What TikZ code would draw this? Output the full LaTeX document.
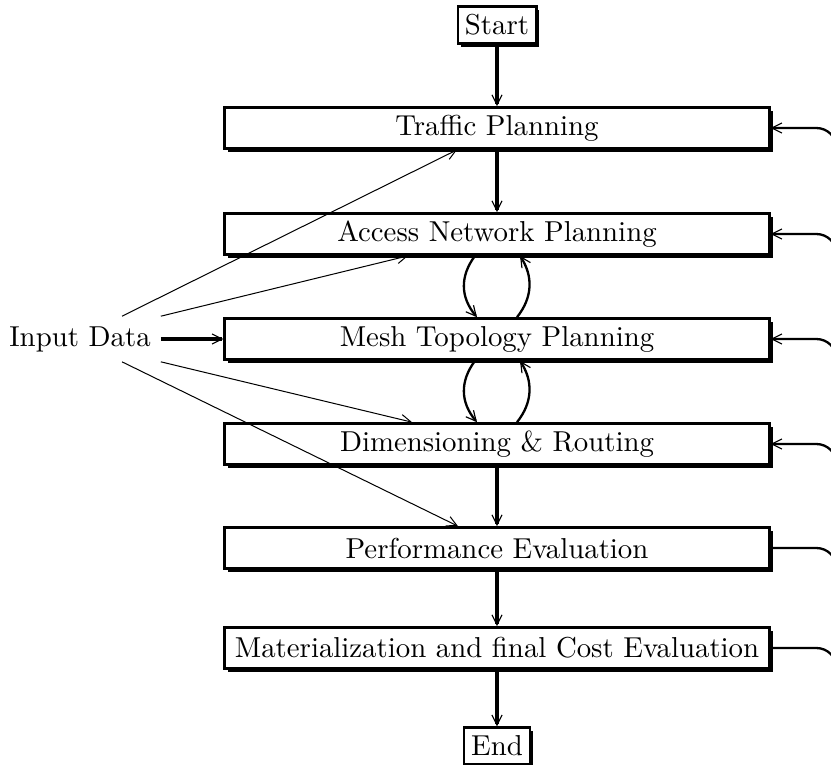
\documentclass[tikz,border=0pt]{standalone}
\usetikzlibrary{arrows.meta,shadows,calc}

\begin{document}
\begin{tikzpicture}[
        x=0.347pt, y=-0.347pt,
        stage/.style={draw, line width=0.85pt, fill=white,
          minimum width=189pt, minimum height=14.3pt, inner sep=1pt,
          drop shadow={shadow xshift=1.1pt, shadow yshift=-1.1pt, fill=black, opacity=1}},
        term/.style={stage, minimum width=0pt, minimum height=12.8pt, inner sep=2.5pt},
        flow/.style={line width=1.15pt, -{Straight Barb[length=3.5pt,width=3.5pt,line width=0.4pt]}},
        feed/.style={line width=0.35pt, -{Straight Barb[length=3.5pt,width=3.5pt,line width=0.35pt]}},
        back/.style={line width=0.8pt, rounded corners=7pt}]
        % picture frame
        \useasboundingbox (0,0) rectangle (831,764);
        % stages
        \node[term]  (start) at (497,25)  {Start};
        \node[stage] (traf)  at (497,128) {Traffic Planning};
        \node[stage] (acc)   at (497,234) {Access Network Planning};
        \node[stage] (mesh)  at (497,339) {Mesh Topology Planning};
        \node[stage] (dim)   at (497,444) {Dimensioning \& Routing};
        \node[stage] (perf)  at (497,548) {Performance Evaluation};
        \node[stage] (mat)   at (497,648) {Materialization and final Cost Evaluation};
        \node[term]  (end)   at (497,746) {End};
        % input
        \node[minimum height=14.6pt] (inp) at (80,339) {Input Data};
        % main flow
        \draw[flow] (start) -- (traf);
        \draw[flow] (traf) -- (acc);
        \draw[flow] (inp) -- (mesh);
        \draw[flow] (dim) -- (perf);
        \draw[flow] (perf) -- (mat);
        \draw[flow] (mat) -- (end);
        % loops between planning stages
        \draw[flow, line width=0.8pt] ($(acc.south)+(-22,0)$) .. controls +(-15,20) and +(-17,-20) .. ($(mesh.north)+(-20,0)$);
        \draw[flow, line width=0.8pt] ($(mesh.north)+(20,0)$) .. controls +(16,-20) and +(13,20) .. ($(acc.south)+(23,0)$);
        \draw[flow, line width=0.8pt] ($(mesh.south)+(-22,0)$) .. controls +(-15,20) and +(-17,-20) .. ($(dim.north)+(-20,0)$);
        \draw[flow, line width=0.8pt] ($(dim.north)+(20,0)$) .. controls +(16,-20) and +(13,20) .. ($(mesh.south)+(23,0)$);
        % input data lines
        \draw[feed] ($(inp.north)+(42,0)$) -- ($(traf.south)+(-40,0)$);
        \draw[feed] (inp.north east) -- ($(acc.south)+(-89,0)$);
        \draw[feed] (inp.south east) -- ($(dim.north)+(-85,0)$);
        \draw[feed] ($(inp.south)+(42,0)$) -- ($(perf.north)+(-39,0)$);
        % feedback on the right
        \foreach \n in {traf,acc,mesh,dim} {
          \coordinate (\n-bus) at ($(\n.east)+(66,30)$);
          \draw[back, {Straight Barb[length=3.5pt,width=3.5pt,line width=0.4pt]}-] (\n.east) -| (\n-bus);
        }
        \foreach \n in {perf,mat} {
          \coordinate (\n-bus) at ($(\n.east)+(66,30)$);
          \draw[back] (\n.east) -| (\n-bus);
        }
      \end{tikzpicture}
\end{document}
